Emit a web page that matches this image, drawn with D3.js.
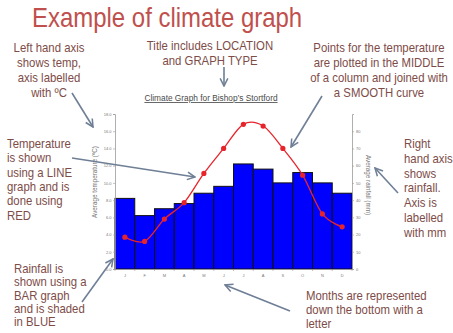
<!DOCTYPE html>
<html>
<head>
<meta charset="utf-8">
<script src="https://cdn.jsdelivr.net/npm/d3@7"></script>
<style>
  html, body { margin: 0; padding: 0; background: #fff; }
  svg { display: block; }
</style>
</head>
<body>
<svg id="chart" width="453" height="333"></svg>
<script>
// Monthly climate data for Bishop's Stortford
const monthLetters = ["J", "F", "M", "A", "M", "J", "J", "A", "S", "O", "N", "D"];
const rainfallMm = [41, 31, 35, 38, 44, 48, 61, 58, 50, 56, 50, 44];
const temperatureC = [3.7, 3.2, 5.8, 7.7, 11.1, 14.0, 16.8, 16.6, 14.0, 10.9, 6.4, 4.9];
const tempTicks = [0, 2, 4, 6, 8, 10, 12, 14, 16, 18];
const rainTicks = [0, 10, 20, 30, 40, 50, 60, 70, 80];

const svg = d3.select("#chart");
const plot = { left: 115, right: 352, top: 114, bottom: 269 };

const x = d3.scaleBand().domain(d3.range(monthLetters.length))
  .range([plot.left, plot.right]).padding(0);
const yTemp = d3.scaleLinear().domain([0, 18]).range([plot.bottom, plot.top]);
const yRain = d3.scaleLinear().domain([0, 90]).range([plot.bottom, plot.top]);

const noteColor = "#7d4c48";
const arrowColor = "#6f7f96";

// Arrowhead (open chevron)
svg.append("defs").append("marker")
  .attr("id", "head").attr("viewBox", "0 0 10 10")
  .attr("refX", 9).attr("refY", 5)
  .attr("markerWidth", 6).attr("markerHeight", 6)
  .attr("markerUnits", "strokeWidth")
  .attr("orient", "auto")
  .append("path").attr("d", "M1,1 L9,5 L1,9")
  .attr("fill", "none").attr("stroke", arrowColor).attr("stroke-width", 1.6);

// Main heading
svg.append("text")
  .attr("transform", "translate(32,27) scale(0.887,1)")
  .attr("font-family", "Liberation Sans, Arial, sans-serif")
  .attr("font-size", 27).attr("fill", "#c0504d")
  .text("Example of climate graph");

// Chart title
svg.append("text")
  .attr("x", 211).attr("y", 101)
  .attr("text-anchor", "middle")
  .attr("font-family", "Liberation Sans, Arial, sans-serif")
  .attr("font-size", 8.3).attr("fill", "#4a4a4a")
  .attr("text-decoration", "underline")
  .text("Climate Graph for Bishop\u2019s Stortford");

// Bars: rainfall
svg.append("g").selectAll("rect").data(rainfallMm).join("rect")
  .attr("x", (d, i) => x(i))
  .attr("y", d => yRain(d))
  .attr("width", x.bandwidth())
  .attr("height", d => yRain(0) - yRain(d))
  .attr("fill", "#0000ff")
  .attr("stroke", "#111")
  .attr("stroke-width", 1);

// Left axis: temperature
const gL = svg.append("g").attr("transform", `translate(${plot.left},0)`)
  .call(d3.axisLeft(yTemp).tickValues(tempTicks).tickFormat(d3.format(".1f")).tickSize(2).tickPadding(1.5));
// Right axis: rainfall
const gR = svg.append("g").attr("transform", `translate(${plot.right},0)`)
  .call(d3.axisRight(yRain).tickValues(rainTicks).tickFormat(d3.format("d")).tickSize(2).tickPadding(2));
// Bottom axis: month letters
const gB = svg.append("g").attr("transform", `translate(0,${plot.bottom})`)
  .call(d3.axisBottom(x).tickFormat(i => monthLetters[i]).tickSize(0).tickPadding(5));
// Short marks at column boundaries
gB.selectAll("line.sep").data(d3.range(monthLetters.length + 1)).join("line")
  .attr("class", "sep")
  .attr("x1", i => plot.left + i * x.bandwidth())
  .attr("x2", i => plot.left + i * x.bandwidth())
  .attr("y1", 0).attr("y2", 2)
  .attr("stroke", "#999").attr("stroke-width", 0.6);

[gL, gR, gB].forEach(g => {
  g.selectAll(".domain").attr("stroke", "#9a9a9a").attr("stroke-width", 0.8);
  g.selectAll(".tick line").attr("stroke", "#9a9a9a").attr("stroke-width", 0.6);
  g.selectAll("text").attr("font-size", 4).attr("fill", "#777")
    .attr("font-family", "Liberation Sans, Arial, sans-serif");
});

// Axis titles
svg.append("text")
  .attr("transform", "translate(97,182) rotate(-90)")
  .attr("text-anchor", "middle")
  .attr("font-family", "Liberation Sans, Arial, sans-serif")
  .attr("font-size", 6.3).attr("fill", "#777")
  .text("Average temperature (\u00baC)");
svg.append("text")
  .attr("transform", "translate(366,185) rotate(90)")
  .attr("text-anchor", "middle")
  .attr("font-family", "Liberation Sans, Arial, sans-serif")
  .attr("font-size", 6.3).attr("fill", "#777")
  .text("Average rainfall (mm)");

// Temperature line (smooth curve through column centres)
const cx = i => x(i) + x.bandwidth() / 2;
const line = d3.line().x((d, i) => cx(i)).y(d => yTemp(d)).curve(d3.curveCardinal.tension(0));
svg.append("path").datum(temperatureC)
  .attr("d", line)
  .attr("fill", "none").attr("stroke", "#e8242b").attr("stroke-width", 1.3);
svg.append("g").selectAll("circle").data(temperatureC).join("circle")
  .attr("cx", (d, i) => cx(i)).attr("cy", d => yTemp(d)).attr("r", 2.6)
  .attr("fill", "#e8242b");

// Annotation blocks
function note(lines, x0, y0, lineH, anchor) {
  const g = svg.append("g");
  lines.forEach((t, k) => {
    g.append("text")
      .attr("transform", `translate(${x0},${y0 + k * lineH}) scale(0.91,1)`)
      .attr("text-anchor", anchor)
      .attr("font-family", "Liberation Sans, Arial, sans-serif")
      .attr("font-size", 12.5).attr("fill", noteColor)
      .text(t);
  });
}
function arrow(x1, y1, x2, y2) {
  svg.append("line")
    .attr("x1", x1).attr("y1", y1).attr("x2", x2).attr("y2", y2)
    .attr("stroke", arrowColor).attr("stroke-width", 1.6)
    .attr("marker-end", "url(#head)");
}

note(["Left hand axis", "shows temp,", "axis labelled", "with \u00baC"], 49, 52, 15, "middle");
note(["Title includes LOCATION", "and GRAPH TYPE"], 210, 50, 15, "middle");
note(["Points for the temperature", "are plotted in the MIDDLE", "of a column and joined with", "a SMOOTH curve"], 379, 52, 15, "middle");
note(["Temperature", "is shown", "using a LINE", "graph and is", "done using", "RED"], 7, 148, 14.3, "start");
note(["Rainfall is", "shown using a", "BAR graph", "and is shaded", "in BLUE"], 14, 273, 13.3, "start");
note(["Right", "hand axis", "shows", "rainfall.", "Axis is", "labelled", "with mm"], 404, 148, 14.8, "start");
note(["Months are represented", "down the bottom with a", "letter"], 306, 300, 14, "start");

arrow(72, 93, 93, 127);
arrow(224, 67, 224, 86);
arrow(322, 96, 291, 147);
arrow(72, 158, 195, 177);
arrow(82, 302, 113, 259);
arrow(398, 193, 375, 168);
arrow(290, 311, 225, 285);
</script>
</body>
</html>
